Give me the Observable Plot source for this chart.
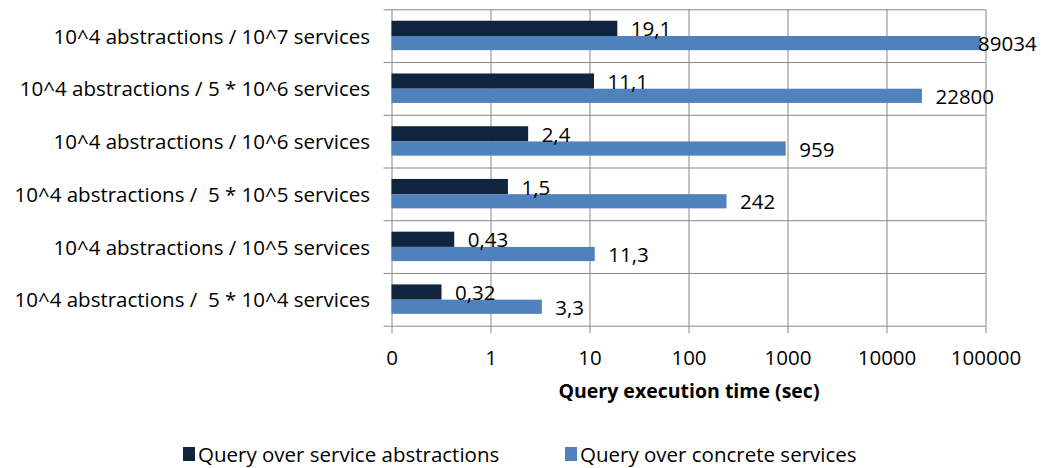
<!DOCTYPE html>
<html>
<head>
<meta charset="utf-8">
<script src="https://cdn.jsdelivr.net/npm/d3@7"></script>
<script src="https://cdn.jsdelivr.net/npm/@observablehq/plot@0.6"></script>
<style>
  html, body { margin: 0; padding: 0; background: #fff; }
  body { width: 1041px; height: 468px; overflow: hidden; font-family: "Open Sans", Lato, sans-serif; color: #000; }
  svg text { white-space: pre; }
  #chart { height: 410px; }
  #legend { position: relative; height: 58px; font-size: 20.5px; }
  .item { position: absolute; top: 33px; display: flex; align-items: center; gap: 3px; line-height: 22px; }
  .sw { display: inline-block; width: 12px; height: 14px; }
</style>
</head>
<body>
<div id="chart"></div>
<div id="legend"></div>
<script>
const categories = [
  "10^4 abstractions / 10^7 services",
  "10^4 abstractions / 5 * 10^6 services",
  "10^4 abstractions / 10^6 services",
  "10^4 abstractions /  5 * 10^5 services",
  "10^4 abstractions / 10^5 services",
  "10^4 abstractions /  5 * 10^4 services"
];
const abstractions = [19.1, 11.1, 2.4, 1.5, 0.43, 0.32];
const concrete = [89034, 22800, 959, 242, 11.3, 3.3];
const seriesNames = ["Query over service abstractions", "Query over concrete services"];
const seriesColors = ["#10243E", "#4F81BD"];
const xTicks = [0.1, 1, 10, 100, 1000, 10000, 100000];
const xTickLabels = ["0", "1", "10", "100", "1000", "10000", "100000"];
const xLabel = "Query execution time (sec)";

const XMIN = 0.1;
// bar layout within each category band (fractions of band)
const bandSlots = [[0.217, 0.506], [0.506, 0.775]];

const rows = [];
categories.forEach((c, i) => {
  [abstractions, concrete].forEach((arr, s) => {
    rows.push({
      cat: c, i, series: seriesNames[s], value: arr[i],
      y1: i + bandSlots[s][0], y2: i + bandSlots[s][1],
      label: String(arr[i]).replace(".", ",")
    });
  });
});

const GRID = "#878787";
const W = 1041, H = 410;
const FONT = "'Open Sans', Lato, sans-serif";

const chart = Plot.plot({
  width: W, height: H,
  marginLeft: 391.5, marginRight: 55.5, marginTop: 9.3, marginBottom: H - 325.7,
  style: { fontFamily: FONT, fontSize: "20.5px", color: "#000", background: "#fff" },
  x: { type: "log", domain: [XMIN, 100000] },
  y: { domain: [0, categories.length], reverse: true, axis: null },
  color: { domain: seriesNames, range: seriesColors },
  marks: [
    Plot.gridX(xTicks, { stroke: GRID, strokeOpacity: 1 }),
    Plot.gridY(d3.range(categories.length + 1), { stroke: GRID, strokeOpacity: 1 }),
    Plot.rect(rows, { x1: XMIN, x2: "value", y1: "y1", y2: "y2", fill: "series" }),
    Plot.text(rows.filter(d => d.value < 50000), {
      x: "value", y: d => (d.y1 + d.y2) / 2, text: "label", dx: 13, dy: 1, textAnchor: "start", fill: "#000"
    }),
    Plot.text(rows.filter(d => d.value >= 50000), {
      x: "value", y: d => (d.y1 + d.y2) / 2, text: "label", dx: -3, dy: 1, textAnchor: "start", fill: "#000"
    }),
    Plot.axisX(xTicks, {
      tickFormat: (d) => xTickLabels[xTicks.indexOf(d)],
      tickSize: 7.5, tickPadding: 16.5, stroke: GRID, label: null, fill: "#000"
    }),
    Plot.axisY(d3.range(categories.length + 1), {
      tickSize: 8, tickFormat: () => "", stroke: GRID, label: null
    }),
    Plot.text(categories, {
      frameAnchor: "left", y: (d, i) => i + 0.5, dx: -22, dy: 1, textAnchor: "end", fill: "#000"
    }),
    Plot.text([xLabel], { frameAnchor: "bottom", lineAnchor: "middle", dy: 66, fontWeight: "bold", fontSize: 19.5, fill: "#000" })
  ]
});
document.getElementById("chart").append(chart);

const legend = document.getElementById("legend");
const legendLeft = [183, 565];
seriesNames.forEach((n, k) => {
  const it = document.createElement("div");
  it.className = "item";
  it.style.left = legendLeft[k] + "px";
  const sw = document.createElement("span");
  sw.className = "sw";
  sw.style.background = seriesColors[k];
  const t = document.createElement("span");
  t.textContent = n;
  it.append(sw, t);
  legend.append(it);
});
</script>
</body>
</html>
